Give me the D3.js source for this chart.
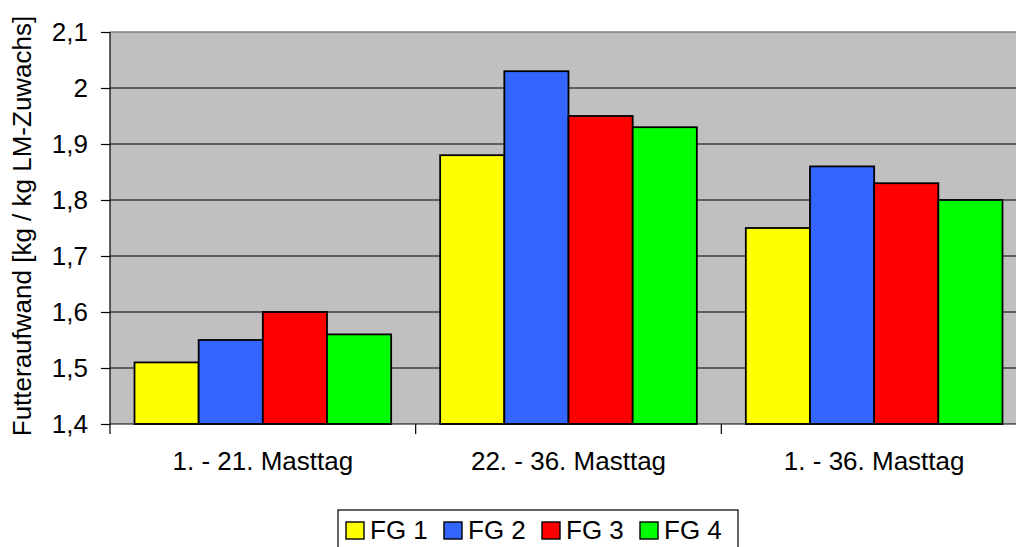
<!DOCTYPE html>
<html>
<head>
<meta charset="utf-8">
<script src="https://cdn.jsdelivr.net/npm/d3@7"></script>
<style>
  html, body { margin: 0; padding: 0; background: #fff; overflow: hidden; }
  svg { display: block; font-family: "Liberation Sans", Arial, sans-serif; }
</style>
</head>
<body>
<svg id="chart" width="1016" height="547"></svg>
<script>
// Feed conversion per feeding group and fattening period
const categories = ["1. - 21. Masttag", "22. - 36. Masttag", "1. - 36. Masttag"];
const seriesNames = ["FG 1", "FG 2", "FG 3", "FG 4"];
const seriesColors = ["#ffff00", "#3366ff", "#ff0000", "#00ff00"];
const fg1 = [1.51, 1.88, 1.75];
const fg2 = [1.55, 2.03, 1.86];
const fg3 = [1.60, 1.95, 1.83];
const fg4 = [1.56, 1.93, 1.80];
const seriesValues = [fg1, fg2, fg3, fg4];
const yTicks = [1.4, 1.5, 1.6, 1.7, 1.8, 1.9, 2.0, 2.1];
const yTitle = "Futteraufwand [kg / kg LM-Zuwachs]";

const FONT = 26;
const svg = d3.select("#chart");
const plot = { left: 110, top: 32, right: 1027, bottom: 424 };

const x0 = d3.scaleBand().domain(categories).range([plot.left, plot.right]).paddingInner(0).paddingOuter(0);
const innerPad = 24.5;
const x1 = d3.scaleBand().domain(seriesNames)
  .range([innerPad, x0.bandwidth() - innerPad]).padding(0);
const y = d3.scaleLinear().domain([1.4, 2.1]).range([plot.bottom, plot.top]);

const fmt = v => (Math.round(v * 10) / 10).toString().replace(".", ",");

// plot background
svg.append("rect")
  .attr("x", plot.left).attr("y", plot.top)
  .attr("width", plot.right - plot.left).attr("height", plot.bottom - plot.top)
  .attr("fill", "#c0c0c0");

// horizontal gridlines
svg.append("g").selectAll("line")
  .data(yTicks.filter(t => t > 1.4 && t < 2.1))
  .join("line")
  .attr("x1", plot.left).attr("x2", plot.right)
  .attr("y1", d => y(d)).attr("y2", d => y(d))
  .attr("stroke", "#000").attr("stroke-width", 1.2);

// top border
svg.append("line")
  .attr("x1", plot.left).attr("x2", plot.right)
  .attr("y1", plot.top).attr("y2", plot.top)
  .attr("stroke", "#808080").attr("stroke-width", 1.5);

// bars
const rows = categories.map((c, i) => ({ cat: c, vals: seriesNames.map((s, j) => ({ s, j, v: seriesValues[j][i] })) }));
svg.append("g").selectAll("g")
  .data(rows).join("g")
  .attr("transform", d => `translate(${x0(d.cat)},0)`)
  .selectAll("rect")
  .data(d => d.vals).join("rect")
  .attr("x", d => x1(d.s))
  .attr("y", d => y(d.v))
  .attr("width", x1.bandwidth())
  .attr("height", d => y(1.4) - y(d.v))
  .attr("fill", d => seriesColors[d.j])
  .attr("stroke", "#000").attr("stroke-width", 1.8);

// y axis
const yAxis = svg.append("g")
  .attr("transform", `translate(${plot.left},0)`)
  .call(d3.axisLeft(y).tickValues(yTicks).tickFormat(fmt).tickSize(9).tickPadding(13));
yAxis.attr("font-size", FONT).attr("font-family", "Liberation Sans, Arial, sans-serif");
yAxis.select(".domain").attr("stroke", "#000").attr("stroke-width", 1.2).attr("d", `M0,${plot.top}V${plot.bottom}`);
yAxis.selectAll(".tick line").attr("stroke", "#000").attr("stroke-width", 1.2);
yAxis.selectAll(".tick text").attr("fill", "#000");

// x axis
const xAxis = svg.append("g")
  .attr("transform", `translate(0,${plot.bottom})`)
  .call(d3.axisBottom(x0).tickSize(0).tickPadding(28));
xAxis.attr("font-size", FONT).attr("font-family", "Liberation Sans, Arial, sans-serif");
xAxis.select(".domain").attr("stroke", "#000").attr("stroke-width", 1.2).attr("d", `M${plot.left},0H${plot.right}`);
xAxis.selectAll(".tick text").attr("fill", "#000");
// category separator ticks
svg.append("g").selectAll("line")
  .data(categories)
  .join("line")
  .attr("x1", d => x0(d)).attr("x2", d => x0(d))
  .attr("y1", plot.bottom).attr("y2", plot.bottom + 10)
  .attr("stroke", "#000").attr("stroke-width", 1.2);

// y axis title
svg.append("text")
  .attr("transform", `translate(31,226) rotate(-90)`)
  .attr("text-anchor", "middle")
  .attr("font-size", FONT)
  .text(yTitle);

// legend
const legend = svg.append("g").attr("transform", "translate(338,510)");
legend.append("rect")
  .attr("x", 0).attr("y", 0).attr("width", 400).attr("height", 45)
  .attr("fill", "#fff").attr("stroke", "#000").attr("stroke-width", 1.2);
const itemX = [8, 106, 204, 302];
const items = legend.selectAll("g.item")
  .data(seriesNames).join("g")
  .attr("class", "item")
  .attr("transform", (d, i) => `translate(${itemX[i]},0)`);
items.append("rect")
  .attr("x", 0).attr("y", 12).attr("width", 18).attr("height", 17)
  .attr("fill", (d, i) => seriesColors[i])
  .attr("stroke", "#000").attr("stroke-width", 1.4);
items.append("text")
  .attr("x", 24).attr("y", 28.5)
  .attr("font-size", FONT)
  .text(d => d);
</script>
</body>
</html>
